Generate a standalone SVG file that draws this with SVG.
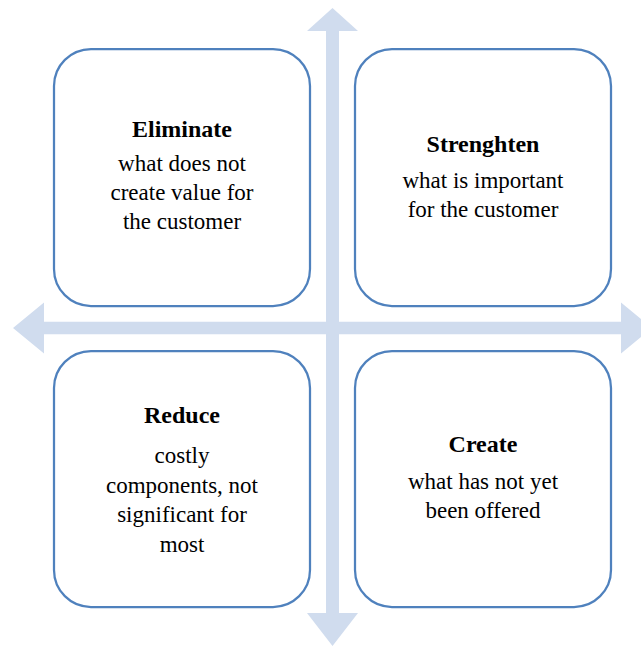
<svg xmlns="http://www.w3.org/2000/svg" width="641" height="646" viewBox="0 0 641 646">
  <style>
    .box { fill: #ffffff; stroke: #4f81bd; stroke-width: 2.25; }
    .axis { fill: #d0dcee; stroke: none; }
    .lbl { font-family: "Liberation Serif", "Times New Roman", serif; font-size: 23px; fill: #000000; text-anchor: middle; }
    .title { font-weight: bold; font-size: 24px; }
  </style>

  <!-- axes: two double-headed block arrows crossing at the centre -->
  <g id="connectors">
    <polygon class="axis" points="332.5,8 358,31 339,31 339,613 358,613 332.5,646 307,613 326,613 326,31 307,31"/>
    <polygon class="axis" points="13,328 44,302.5 44,321.7 621,321.7 621,302.5 652,328 621,353.5 621,334.3 44,334.3 44,353.5"/>
  </g>

  <g id="eliminate">
    <rect class="box" x="54" y="49" width="256" height="257" rx="37" ry="37"/>
    <text class="lbl title" x="182" y="137">Eliminate</text>
    <text class="lbl" x="182" y="171">what does not</text>
    <text class="lbl" x="182" y="200">create value for</text>
    <text class="lbl" x="182" y="229">the customer</text>
  </g>

  <g id="strenghten">
    <rect class="box" x="355" y="49" width="256" height="257" rx="37" ry="37"/>
    <text class="lbl title" x="483" y="152">Strenghten</text>
    <text class="lbl" x="483" y="188">what is important</text>
    <text class="lbl" x="483" y="217">for the customer</text>
  </g>

  <g id="reduce">
    <rect class="box" x="54" y="351" width="256" height="256" rx="37" ry="37"/>
    <text class="lbl title" x="182" y="423">Reduce</text>
    <text class="lbl" x="182" y="463">costly</text>
    <text class="lbl" x="182" y="493">components, not</text>
    <text class="lbl" x="182" y="522">significant for</text>
    <text class="lbl" x="182" y="552">most</text>
  </g>

  <g id="create">
    <rect class="box" x="355" y="351" width="256" height="256" rx="37" ry="37"/>
    <text class="lbl title" x="483" y="452">Create</text>
    <text class="lbl" x="483" y="489">what has not yet</text>
    <text class="lbl" x="483" y="518">been offered</text>
  </g>
</svg>
